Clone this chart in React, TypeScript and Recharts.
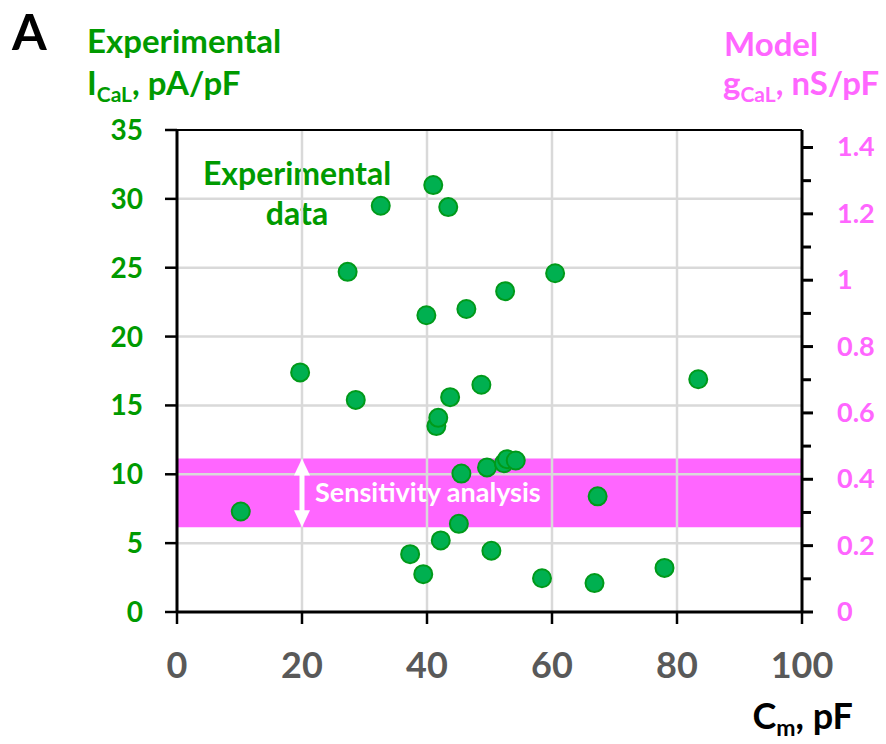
import React from 'react';
import {
    ScatterChart,
    Scatter,
    XAxis,
    YAxis,
    ReferenceArea,
    ReferenceLine
} from 'recharts';

// membrane capacitance (pF) and measured L-type Ca current density (pA/pF)
const cmValues = [
    10.2, 19.7, 27.3, 28.6, 32.6, 37.3, 39.4, 39.9, 41.0, 41.5,
    41.8, 42.2, 43.4, 43.7, 45.1, 45.5, 46.3, 48.7, 49.6, 50.3,
    52.3, 52.5, 52.8, 54.2, 58.4, 60.5, 66.8, 67.3, 78.0, 83.4
];
const icalValues = [
    7.3, 17.4, 24.7, 15.4, 29.5, 4.2, 2.75, 21.55, 31.0, 13.5,
    14.1, 5.2, 29.4, 15.6, 6.4, 10.05, 22.0, 16.5, 10.5, 4.45,
    10.8, 23.3, 11.1, 11.0, 2.45, 24.6, 2.1, 8.4, 3.2, 16.9
];

// range of I_CaL covered by the sensitivity analysis
const sensitivityRange = [6.15, 11.15];

const xTicks = [0, 20, 40, 60, 80, 100];
const leftTicks = [0, 5, 10, 15, 20, 25, 30, 35];
const rightTicks = [0, 0.1, 0.2, 0.3, 0.4, 0.5, 0.6, 0.7, 0.8, 0.9, 1, 1.1, 1.2, 1.3, 1.4];
const rightLabels = ['0', '', '0.2', '', '0.4', '', '0.6', '', '0.8', '', '1', '', '1.2', '', '1.4'];
const gridX = [20, 40, 60, 80];
const gridY = [5, 10, 15, 20, 25, 30];

const GREEN = '#009a00';
const PINK = '#ff66ff';
const FONT = 'Lato, "Open Sans", sans-serif';

const data = cmValues.map((cm, i) => ({ cm, ical: icalValues[i] }));

const Dot = (props: any) => (
    <circle cx={props.cx} cy={props.cy} r={9} fill="#00b050" stroke="#009a1a" strokeWidth={2} />
);

// right axis: long ticks with labels, short ticks in between
const RightTick = (props: any) => {
    const { x, y, index } = props;
    const label = rightLabels[index] ?? '';
    const major = label !== '';
    return (
        <g>
            <line x1={x} y1={y} x2={x + (major ? 11 : 9)} y2={y} stroke="#000" strokeWidth={3} />
            {major && (
                <text x={x + 35} y={y} dy={9} fill={PINK} fontSize={27} fontWeight={700} fontFamily={FONT}>
                    {label}
                </text>
            )}
        </g>
    );
};

const SensitivityArrow = (props: any) => {
    const { x1, y1, y2 } = props;
    const top = Math.min(y1, y2);
    const bottom = Math.max(y1, y2);
    const mid = (top + bottom) / 2;
    const head = 17;
    const half = 8;
    return (
        <g>
            <line x1={x1} y1={top + head - 2} x2={x1} y2={bottom - head + 2} stroke="#fff" strokeWidth={5} />
            <polygon points={`${x1},${top} ${x1 - half},${top + head} ${x1 + half},${top + head}`} fill="#fff" />
            <polygon points={`${x1},${bottom} ${x1 - half},${bottom - head} ${x1 + half},${bottom - head}`} fill="#fff" />
            <text x={x1 + 13} y={mid + 9} fill="#fff" fontSize={27} fontWeight={700} fontFamily={FONT}>
                Sensitivity analysis
            </text>
        </g>
    );
};

const App: React.FC = () => {
    return (
        <div style={{ position: 'absolute', left: 0, top: 0, width: 886, height: 744, background: '#fff' }}>
            <ScatterChart width={886} height={744} margin={{ top: 130, right: 0, bottom: 0, left: 0 }}>
                <XAxis
                    type="number"
                    dataKey="cm"
                    domain={[0, 100]}
                    ticks={xTicks}
                    height={132}
                    tickSize={12}
                    tickMargin={28}
                    tickLine={{ stroke: '#000', strokeWidth: 2.5 }}
                    axisLine={{ stroke: '#000', strokeWidth: 3 }}
                    tick={{ fill: '#595959', fontSize: 36, fontWeight: 700, fontFamily: FONT }}
                />
                <YAxis
                    yAxisId="left"
                    type="number"
                    dataKey="ical"
                    domain={[0, 35]}
                    ticks={leftTicks}
                    width={177}
                    tickSize={12}
                    tickMargin={22}
                    tickLine={{ stroke: '#000', strokeWidth: 2.5 }}
                    axisLine={{ stroke: '#000', strokeWidth: 3 }}
                    tick={{ fill: GREEN, fontSize: 28, fontWeight: 700, fontFamily: FONT }}
                />
                <YAxis
                    yAxisId="right"
                    orientation="right"
                    type="number"
                    domain={[0, 1.4527]}
                    allowDataOverflow
                    ticks={rightTicks}
                    interval={0}
                    width={84}
                    tickSize={0}
                    tickMargin={0}
                    tickLine={false}
                    axisLine={{ stroke: '#000', strokeWidth: 3 }}
                    tick={(p: any) => <RightTick {...p} />}
                />
                <ReferenceArea
                    yAxisId="left"
                    x1={0}
                    x2={100}
                    y1={sensitivityRange[0]}
                    y2={sensitivityRange[1]}
                    fill={PINK}
                    fillOpacity={1}
                    stroke="none"
                />
                {gridY.map((v) => (
                    <ReferenceLine key={`gy-${v}`} yAxisId="left" y={v} stroke="#d9d9d9" strokeWidth={2.5} />
                ))}
                {gridX.map((v) => (
                    <ReferenceLine key={`gx-${v}`} yAxisId="left" x={v} stroke="#d9d9d9" strokeWidth={2.5} />
                ))}
                <ReferenceLine yAxisId="left" y={35} stroke="#000" strokeWidth={2} />
                <ReferenceLine
                    yAxisId="left"
                    segment={[{ x: 20, y: sensitivityRange[0] }, { x: 20, y: sensitivityRange[1] }]}
                    shape={<SensitivityArrow />}
                />
                <Scatter yAxisId="left" data={data} shape={<Dot />} isAnimationActive={false} />

                <text x={12} y={50} fontSize={50} fontWeight={700} fontFamily={FONT} fill="#000">A</text>
                <text x={87} y={53} fontSize={33} fontWeight={700} fontFamily={FONT} fill={GREEN}>Experimental</text>
                <text x={87} y={95} fontSize={33} fontWeight={700} fontFamily={FONT} fill={GREEN}>
                    I<tspan fontSize={21} dy={7}>CaL</tspan><tspan dy={-7}>, pA/pF</tspan>
                </text>
                <text x={724} y={56} fontSize={33} fontWeight={700} fontFamily={FONT} fill={PINK}>Model</text>
                <text x={723} y={95} fontSize={33} fontWeight={700} fontFamily={FONT} fill={PINK}>
                    g<tspan fontSize={21} dy={7}>CaL</tspan><tspan dy={-7}>, nS/pF</tspan>
                </text>
                <text x={297} y={185} textAnchor="middle" fontSize={32} fontWeight={700} fontFamily={FONT} fill={GREEN}>Experimental</text>
                <text x={297} y={225} textAnchor="middle" fontSize={32} fontWeight={700} fontFamily={FONT} fill={GREEN}>data</text>
                <text x={853} y={729} textAnchor="end" fontSize={36} fontWeight={700} fontFamily={FONT} fill="#000">
                    C<tspan fontSize={23} dy={7}>m</tspan><tspan dy={-7}>, pF</tspan>
                </text>
            </ScatterChart>
        </div>
    );
};

export default App;
